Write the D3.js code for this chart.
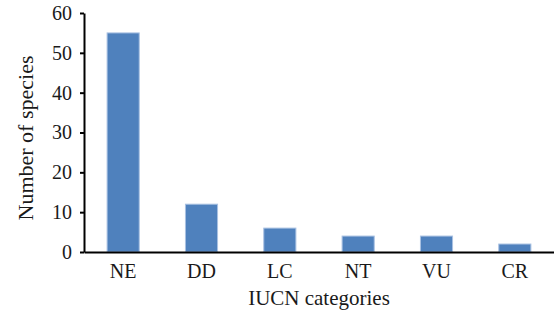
<!DOCTYPE html>
<html>
<head>
<meta charset="utf-8">
<script src="https://cdn.jsdelivr.net/npm/d3@7"></script>
<style>
  body { margin: 0; background: #fff; }
  svg { display: block; }
</style>
</head>
<body>
<div id="chart"></div>
<script>
// IUCN category counts
const categories = ["NE", "DD", "LC", "NT", "VU", "CR"];
const species = [55, 12, 6, 4, 4, 2];
const yTicks = [0, 10, 20, 30, 40, 50, 60];

const width = 554, height = 314;
const margin = {top: 13, right: 0, bottom: 62, left: 84};

const svg = d3.select("#chart").append("svg")
    .attr("width", width)
    .attr("height", height)
    .style("font-family", "'Liberation Serif', 'DejaVu Serif', serif");

const x = d3.scaleBand()
    .domain(categories)
    .range([margin.left, width - margin.right])
    .paddingInner(0.59)
    .paddingOuter(0.295);

const y = d3.scaleLinear()
    .domain([0, 60])
    .range([height - margin.bottom, margin.top]);

// bars
svg.append("g")
  .selectAll("rect")
  .data(species)
  .join("rect")
    .attr("x", (d, i) => x(categories[i]))
    .attr("y", d => y(d))
    .attr("width", x.bandwidth())
    .attr("height", d => y(0) - y(d))
    .attr("fill", "#4f81bd")
    .attr("stroke", "#a9c1e2")
    .attr("stroke-width", 1);

// y axis
const yAxis = svg.append("g")
    .attr("transform", `translate(${margin.left},0)`)
    .call(d3.axisLeft(y).tickValues(yTicks).tickSize(4).tickPadding(8).tickSizeOuter(0));
yAxis.select(".domain").attr("stroke", "#000").attr("stroke-width", 2);
yAxis.selectAll(".tick line").attr("stroke", "#000").attr("stroke-width", 2);
yAxis.selectAll(".tick text").attr("font-size", 20).attr("fill", "#1a1a1a")
    .attr("font-family", "'Liberation Serif', serif");

// x axis
const xAxis = svg.append("g")
    .attr("transform", `translate(0,${y(0)})`)
    .call(d3.axisBottom(x).tickSize(0).tickPadding(12));
xAxis.select(".domain").attr("stroke", "#000").attr("stroke-width", 2);
xAxis.selectAll(".tick text").attr("font-size", 20).attr("fill", "#1a1a1a")
    .attr("font-family", "'Liberation Serif', serif");

// axis titles
svg.append("text")
    .attr("x", (margin.left + width) / 2 - 0)
    .attr("y", 305)
    .attr("text-anchor", "middle")
    .attr("font-size", 21)
    .attr("fill", "#1a1a1a")
    .text("IUCN categories");

svg.append("text")
    .attr("transform", "translate(33,138) rotate(-90)")
    .attr("text-anchor", "middle")
    .attr("font-size", 22)
    .attr("fill", "#1a1a1a")
    .text("Number of species");
</script>
</body>
</html>
